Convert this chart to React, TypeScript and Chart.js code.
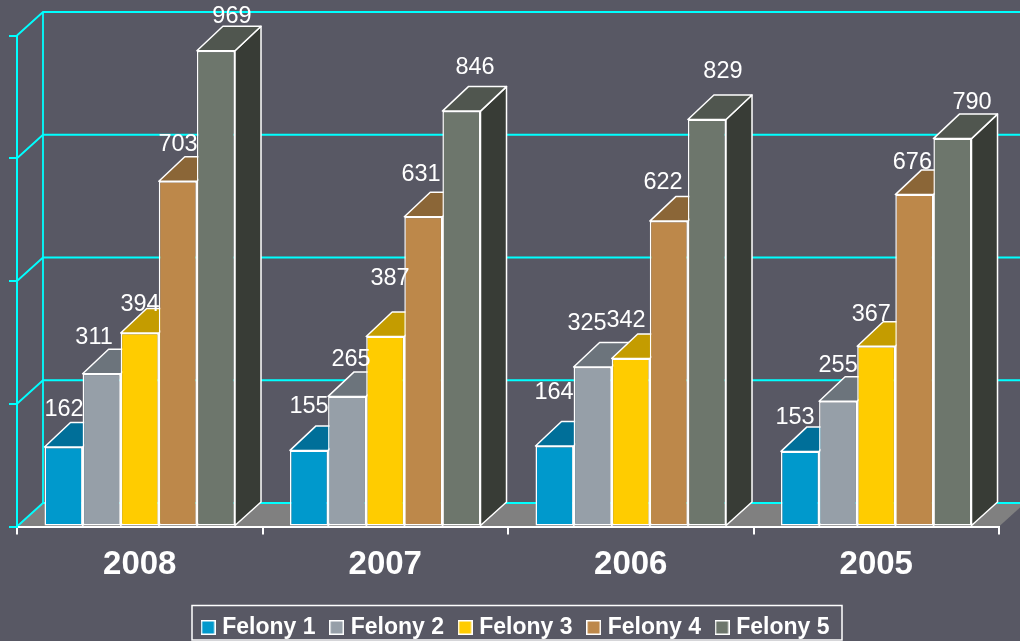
import React, { useEffect, useRef } from "react";
import { Chart, registerables } from "chart.js";

Chart.register(...registerables);

const categories = ["2008", "2007", "2006", "2005"];
const seriesNames = ["Felony 1", "Felony 2", "Felony 3", "Felony 4", "Felony 5"];
const felony1 = [162, 155, 164, 153];
const felony2 = [311, 265, 325, 255];
const felony3 = [394, 387, 342, 367];
const felony4 = [703, 631, 622, 676];
const felony5 = [969, 846, 829, 790];
const yTicks = { min: 0, max: 1000, step: 250 };

const frontColors = ["#0099cc", "#969fa8", "#ffcc00", "#bd884a", "#6d766c"];
const topColors = ["#006f99", "#6c747c", "#c49c00", "#8b6637", "#50564f"];
const sideColors = ["#005573", "#50565c", "#8f7200", "#6a4c28", "#383c36"];

const BG = "#585864";
const CYAN = "#00ffff";
const FONT = '"Liberation Sans", Arial, sans-serif';
const DX = 26;
const DY_FLOOR = 23.5;
const DY_TOP = 24.5;
const AREA_BOTTOM = 526.5;

// hand-placed label nudges relative to each bar's centre/top, per series then per year
const labelDX = [
  [0.5, 0, -0.5, -5],
  [-7.6, 3.9, -5.6, 0],
  [0.3, 4.8, -4.7, -5],
  [0.2, -2.3, -5.8, -2],
  [16, 13.6, 16, 19.6],
];
const labelDY = [
  [-37, -44, -53, -34],
  [-36.6, -37, -43, -36],
  [-29, -58, -38, -32],
  [-37, -42, -39, -32],
  [-34, -44, -48, -36],
];

function legendSwatch(color: string) {
  const c = document.createElement("canvas");
  c.width = 15;
  c.height = 15;
  const x = c.getContext("2d")!;
  x.fillStyle = color;
  x.fillRect(0, 0, 15, 15);
  x.strokeStyle = "#ffffff";
  x.lineWidth = 1.5;
  x.strokeRect(0.75, 0.75, 13.5, 13.5);
  return c;
}

function poly(ctx: CanvasRenderingContext2D, pts: number[][], fill: string, stroke = "#ffffff", lw = 1.5) {
  ctx.beginPath();
  pts.forEach((p, i) => (i ? ctx.lineTo(p[0], p[1]) : ctx.moveTo(p[0], p[1])));
  ctx.closePath();
  ctx.fillStyle = fill;
  ctx.fill();
  if (stroke) {
    ctx.strokeStyle = stroke;
    ctx.lineWidth = lw;
    ctx.lineJoin = "round";
    ctx.stroke();
  }
}

const scene3d = {
  id: "scene3d",
  afterLayout(chart: any) {
    const l = chart.legend;
    l.left += 18;
    l.right += 18;
    l.top += 8;
    l.bottom += 8;
  },
  beforeDraw(chart: any) {
    const { ctx, chartArea: a, scales } = chart;
    const y = scales.y;
    ctx.save();
    // floor
    poly(
      ctx,
      [
        [a.left, y.getPixelForValue(0)],
        [a.left + DX, y.getPixelForValue(0) - DY_FLOOR],
        [a.right + DX, y.getPixelForValue(0) - DY_FLOOR],
        [a.right, y.getPixelForValue(0)],
      ],
      "#808080",
      ""
    );
    // back wall and side wall grid
    ctx.strokeStyle = CYAN;
    ctx.lineWidth = 1.8;
    for (let v = yTicks.min; v <= yTicks.max; v += yTicks.step) {
      const py = y.getPixelForValue(v);
      ctx.beginPath();
      ctx.moveTo(a.left, py);
      ctx.lineTo(a.left + DX, py - DY_FLOOR);
      ctx.lineTo(chart.width, py - DY_FLOOR);
      ctx.stroke();
    }
    ctx.beginPath();
    ctx.moveTo(a.left + DX, y.getPixelForValue(yTicks.min) - DY_FLOOR);
    ctx.lineTo(a.left + DX, y.getPixelForValue(yTicks.max) - DY_FLOOR);
    ctx.stroke();
    ctx.restore();
  },
  beforeDatasetDraw() {
    return false;
  },
  afterDatasetsDraw(chart: any) {
    const { ctx } = chart;
    ctx.save();
    categories.forEach((_, i) => {
      seriesNames.forEach((_n, j) => {
        const bar = chart.getDatasetMeta(j).data[i];
        const { x, y, base, width } = bar.getProps(["x", "y", "base", "width"], true);
        const r = x + width / 2;
        const l = x - width / 2;
        poly(
          ctx,
          [
            [r, y],
            [r + DX, y - DY_TOP],
            [r + DX, base - DY_FLOOR],
            [r, base],
          ],
          sideColors[j]
        );
        poly(
          ctx,
          [
            [l, y],
            [l + DX, y - DY_TOP],
            [r + DX, y - DY_TOP],
            [r, y],
          ],
          topColors[j]
        );
        bar.draw(ctx);
      });
    });
    // data labels
    ctx.fillStyle = "#ffffff";
    ctx.font = `23.5px ${FONT}`;
    ctx.textAlign = "center";
    ctx.textBaseline = "middle";
    seriesNames.forEach((_n, j) => {
      const meta = chart.getDatasetMeta(j);
      const vals = chart.data.datasets[j].data;
      categories.forEach((_, i) => {
        const p = meta.data[i].getProps(["x", "y"], true);
        ctx.fillText(String(vals[i]), p.x + labelDX[j][i], p.y + labelDY[j][i]);
      });
    });
    ctx.restore();
  },
  afterDraw(chart: any) {
    const { ctx } = chart;
    ctx.save();
    ctx.strokeStyle = "#ffffff";
    ctx.lineWidth = 1.5;
    ctx.strokeRect(192, 605.5, 650, 34.5);
    ctx.restore();
  },
};

export default function App() {
  const ref = useRef<HTMLCanvasElement>(null);
  useEffect(() => {
    document.body.style.margin = "0";
    document.body.style.background = BG;
    const values = [felony1, felony2, felony3, felony4, felony5];
    const chart = new Chart(ref.current!, {
      type: "bar",
      data: {
        labels: categories,
        datasets: seriesNames.map((label, j) => ({
          label,
          data: values[j],
          backgroundColor: frontColors[j],
          borderColor: "#ffffff",
          borderWidth: 1.5,
          borderSkipped: false,
          categoryPercentage: 0.776,
          barPercentage: 1,
        })),
      },
      options: {
        responsive: false,
        animation: false,
        events: [],
        layout: { padding: { left: 0, right: 21, top: 35.5, bottom: 0 } },
        plugins: {
          tooltip: { enabled: false },
          legend: {
            position: "bottom",
            labels: {
              color: "#ffffff",
              font: { family: FONT, size: 23, weight: "bold" },
              usePointStyle: true,
              boxWidth: 5.3,
              pointStyleWidth: 5.3,
              padding: 18.4,
              generateLabels: () =>
                seriesNames.map((text, j) => ({
                  text,
                  fontColor: "#ffffff",
                  pointStyle: legendSwatch(frontColors[j]),
                  datasetIndex: j,
                  lineWidth: 0,
                })),
            },
          },
        },
        scales: {
          x: {
            offset: true,
            afterFit: (axis: any) => {
              axis.height = 641 - AREA_BOTTOM - (axis.chart.legend?.height ?? 67);
            },
            grid: { offset: true, drawOnChartArea: false, color: "#ffffff", tickLength: 8, lineWidth: 2 },
            border: { color: "#ffffff", width: 2 },
            ticks: {
              color: "#ffffff",
              font: { family: FONT, size: 33, weight: "bold" },
              padding: 11,
              maxRotation: 0,
            },
          },
          y: {
            min: yTicks.min,
            max: yTicks.max,
            afterFit: (axis: any) => {
              axis.width = 17;
            },
            grid: { drawOnChartArea: false, color: CYAN, tickLength: 8, lineWidth: 2 },
            border: { color: CYAN, width: 2 },
            ticks: { stepSize: yTicks.step, display: false },
          },
        },
      } as any,
      plugins: [scene3d as any],
    });
    return () => chart.destroy();
  }, []);
  return (
    <div style={{ position: "absolute", left: 0, top: 0, width: 1020, height: 641, background: BG }}>
      <canvas ref={ref} width={1020} height={641} style={{ display: "block", background: BG }} />
    </div>
  );
}
